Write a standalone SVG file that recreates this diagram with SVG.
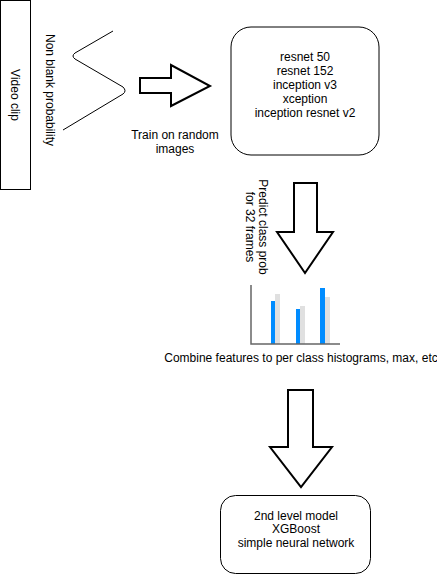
<svg xmlns="http://www.w3.org/2000/svg" width="437" height="576" viewBox="0 0 437 576">
<style>
text{font-family:"Liberation Sans",Arial,sans-serif;font-size:12px;fill:#000;text-anchor:middle}
.box{fill:#fff;stroke:#000;stroke-width:1}
.arr{fill:#fff;stroke:#000;stroke-width:2;stroke-linejoin:miter}
.blue{fill:#008cff}
.grey{fill:#e0e0e0}
</style>
<rect width="437" height="576" fill="#fff"/>
<g id="video-clip">
<rect class="box" x="0.5" y="0.5" width="30" height="189"/>
<text transform="rotate(90 15 95)" x="15" y="99">Video clip</text>
</g>
<g id="non-blank">
<text transform="rotate(90 50 90)" x="50" y="94">Non blank probability</text>
<path d="M113 31 L75 53 Q71 56 75 59 L123 87 Q127 91 123 94 L63 130" fill="none" stroke="#000" stroke-width="1"/>
</g>
<g id="models">
<rect class="box" x="231" y="27" width="148" height="128" rx="20" ry="20"/>
<text x="305" y="61">resnet 50</text>
<text x="305" y="75">resnet 152</text>
<text x="305" y="89">inception v3</text>
<text x="305" y="103">xception</text>
<text x="305" y="117">inception resnet v2</text>
</g>
<g id="train-label">
<text x="175" y="139">Train on random</text>
<text x="175" y="153">images</text>
</g>
<g id="predict-label">
<text transform="rotate(90 256 227)" x="256" y="227"><tspan x="256" dy="-3">Predict class prob</tspan><tspan x="256" dy="13">for 32 frames</tspan></text>
</g>
<g id="chart">
<rect class="blue" x="271" y="301" width="4" height="43"/>
<rect class="grey" x="275" y="294" width="5" height="50"/>
<rect class="blue" x="296" y="309" width="4" height="35"/>
<rect class="grey" x="300" y="306" width="5" height="38"/>
<rect class="blue" x="320" y="288" width="5" height="56"/>
<rect class="grey" x="325" y="297" width="5" height="47"/>
<path d="M251 285 V344 H340" fill="none" stroke="#666" stroke-width="1.5"/>
</g>
<g id="combine-label">
<text x="301" y="362">Combine features to per class histograms, max, etc</text>
</g>
<g id="second-level">
<rect class="box" x="220.5" y="495.5" width="150" height="78" rx="15" ry="15"/>
<text x="296" y="520">2nd level model</text>
<text x="296" y="533">XGBoost</text>
<text x="296" y="547">simple neural network</text>
</g>
<g id="connectors">
<path class="arr" d="M140 78 H171 V65 L210 86 L171 106 V93 H140 Z"/>
<path class="arr" d="M294 183 H317 V232 H333 L305 273 L277 232 H294 Z"/>
<path class="arr" d="M288 390 H313 V447 H332 L301 487 L270 447 H288 Z"/>
</g>
</svg>
